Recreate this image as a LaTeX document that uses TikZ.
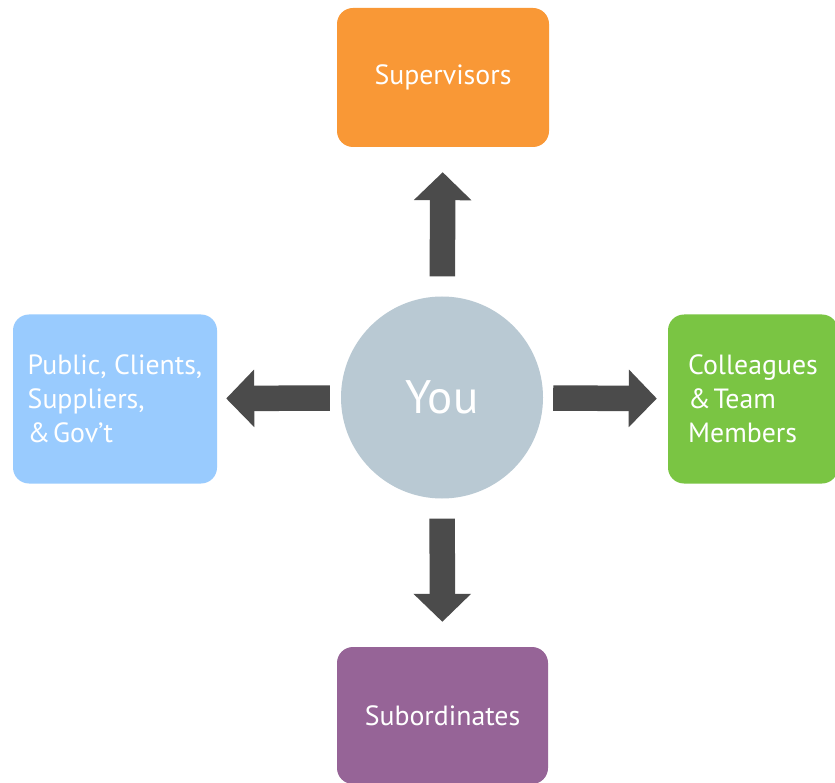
\documentclass[tikz,border=0pt]{standalone}
\usepackage{fontspec}
\setmainfont{PT Sans}
\usetikzlibrary{arrows.meta}
\definecolor{orangebox}{HTML}{F99836}
\definecolor{bluebox}{HTML}{99CBFE}
\definecolor{greenbox}{HTML}{7AC543}
\definecolor{purplebox}{HTML}{966497}
\definecolor{youcirc}{HTML}{B9C9D3}
\definecolor{arrowgray}{HTML}{4B4B4B}
\tikzset{
  box/.style={rounded corners=16pt, draw=none, text=white, font=\fontsize{27.8}{34}\selectfont, align=left, inner sep=0pt},
  bigarrow/.style={arrowgray, line width=25.5pt, -{Triangle[width=56pt,length=28pt]}},
}
\newcommand{\ampsp}{\&\hspace{0.1em}}
\begin{document}
\begin{tikzpicture}[x=1pt,y=-1pt]
\clip (0,0) rectangle (835,783);
\fill[white] (0,0) rectangle (835,783);
\node[box, fill=orangebox, minimum width=212pt, minimum height=139pt] (sup) at (443,77.5) {Supervisors};
\node[box, fill=bluebox, minimum width=204pt, minimum height=169pt] (pub) at (115,399) {Public, Clients,\\Suppliers,\\\ampsp Gov’t};
\node[box, fill=greenbox, minimum width=170pt, minimum height=169pt] (col) at (753,399) {Colleagues\\\ampsp Team\\Members};
\node[box, fill=purplebox, minimum width=211pt, minimum height=137pt] (sub) at (442.5,715.5) {Subordinates};
\node[circle, fill=youcirc, minimum size=202pt, inner sep=0pt, text=white, font=\fontsize{47}{52}\selectfont] (you) at (442,397.5) {You};
\draw[bigarrow, shorten <=20pt, shorten >=25pt] (you) -- (sup);
\draw[bigarrow, shorten <=11pt, shorten >=9pt] (you) -- (pub);
\draw[bigarrow, shorten <=10pt, shorten >=11pt] (you) -- (col);
\draw[bigarrow, shorten <=20pt, shorten >=25pt] (you) -- (sub);
\end{tikzpicture}
\end{document}
